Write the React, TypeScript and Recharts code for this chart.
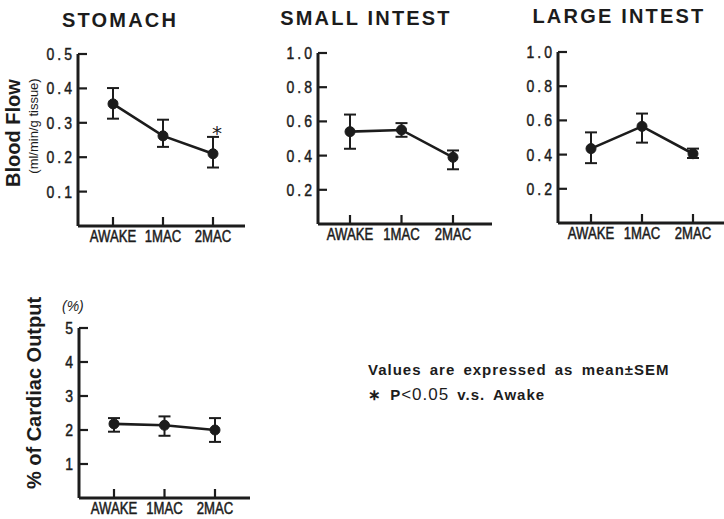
import React from 'react';
import { LineChart, Line, XAxis, YAxis, ErrorBar } from 'recharts';

const INK = '#1c1c1c';
const SANS = "'Liberation Sans', Arial, sans-serif";

const categories = ['AWAKE', '1MAC', '2MAC'];

// blood flow, ml/min/g tissue
const stomachMean = [0.355, 0.262, 0.21];
const stomachHigh = [0.401, 0.309, 0.259];
const stomachLow = [0.312, 0.23, 0.17];
const stomachStar = [null, null, 0.285];

const smallMean = [0.54, 0.55, 0.39];
const smallHigh = [0.64, 0.59, 0.43];
const smallLow = [0.44, 0.51, 0.32];

const largeMean = [0.435, 0.565, 0.405];
const largeHigh = [0.53, 0.64, 0.435];
const largeLow = [0.35, 0.47, 0.38];

// % of cardiac output
const cardiacMean = [2.18, 2.14, 2.0];
const cardiacHigh = [2.35, 2.4, 2.35];
const cardiacLow = [1.95, 1.83, 1.65];

const stomachTicks = [0.1, 0.2, 0.3, 0.4, 0.5];
const intestTicks = [0.2, 0.4, 0.6, 0.8, 1.0];
const cardiacTicks = [1, 2, 3, 4, 5];

function buildRows(mean: number[], high: number[], low: number[], star?: (number | null)[]) {
    return categories.map((cat, i) => ({
        cat,
        mean: mean[i],
        err: [mean[i] - low[i], high[i] - mean[i]],
        star: star ? star[i] : null,
    }));
}

// ticks point into the plot, labels are condensed
const XTick = (props: any) => {
    const { x, y, payload } = props;
    return (
        <g>
            <line x1={x} x2={x} y1={y} y2={y - 9} stroke={INK} strokeWidth={2.2} />
            <text transform={`translate(${x},${y + 15.5}) scale(0.82,1)`} textAnchor="middle" fontFamily={SANS}
                fontSize={16} fill={INK} stroke={INK} strokeWidth={0.5}>
                {payload.value}
            </text>
        </g>
    );
};

const makeYTick = (fmt: (v: number) => string, spacing: number) => (props: any) => {
    const { x, y, payload } = props;
    return (
        <g>
            <line x1={x} x2={x + 9} y1={y} y2={y} stroke={INK} strokeWidth={2.2} />
            <text transform={`translate(${x - 6 + spacing * 0.85},${y + 6}) scale(0.85,1)`} textAnchor="end"
                fontFamily={SANS} fontSize={16.5} letterSpacing={spacing} fill={INK} stroke={INK} strokeWidth={0.45}>
                {fmt(payload.value)}
            </text>
        </g>
    );
};

const StarDot = (props: any) => {
    const { cx, cy, value } = props;
    if (cx == null || cy == null || value == null) return <g key={props.key} />;
    return (
        <text key={props.key} x={cx + 4} y={cy + 12} textAnchor="middle" fontFamily="'DejaVu Sans', sans-serif"
            fontSize={20} fill={INK}>*</text>
    );
};

interface PanelProps {
    x0: number; x1: number; y0: number; y1: number;
    rows: any[];
    domain: [number, number];
    ticks: number[];
    fmt: (v: number) => string;
    spacing: number;
    padL: number; padR: number;
}

function Panel({ x0, x1, y0, y1, rows, domain, ticks, fmt, spacing, padL, padR }: PanelProps) {
    const yW = 50, xH = 30, mTop = 12, mRight = 2;
    const axisLine = { stroke: INK, strokeWidth: 3 };
    return (
        <div style={{ position: 'absolute', left: x0 - yW, top: y0 - mTop }}>
            <LineChart width={x1 - x0 + yW + mRight} height={y1 - y0 + mTop + xH} data={rows}
                margin={{ top: mTop, right: mRight, bottom: 0, left: 0 }}>
                <XAxis dataKey="cat" height={xH} padding={{ left: padL, right: padR }} interval={0}
                    tickSize={0} tickMargin={0} tickLine={false} tick={XTick} axisLine={axisLine} />
                <YAxis width={yW} domain={domain} ticks={ticks} type="number" interval={0}
                    tickSize={0} tickMargin={0} tickLine={false} tick={makeYTick(fmt, spacing)} axisLine={axisLine} />
                <Line dataKey="mean" type="linear" stroke={INK} strokeWidth={2.6} isAnimationActive={false}
                    dot={{ r: 5, fill: INK, stroke: INK, strokeWidth: 1 }} legendType="none">
                    <ErrorBar dataKey="err" direction="y" width={6} stroke={INK} strokeWidth={2} />
                </Line>
                <Line dataKey="star" stroke="none" isAnimationActive={false} dot={StarDot}
                    activeDot={false} legendType="none" connectNulls={false} />
            </LineChart>
        </div>
    );
}

const dec = (v: number) => v.toFixed(1);
const int = (v: number) => String(v);

export default function App() {
    return (
        <div style={{ position: 'absolute', left: 0, top: 0, width: 724, height: 519, background: '#fff', overflow: 'hidden' }}>
            <Panel x0={78} x1={245} y0={54} y1={226} rows={buildRows(stomachMean, stomachHigh, stomachLow, stomachStar)}
                domain={[0, 0.5]} ticks={stomachTicks} fmt={dec} spacing={3.5} padL={35} padR={32} />
            <Panel x0={318} x1={492} y0={53} y1={224} rows={buildRows(smallMean, smallHigh, smallLow)}
                domain={[0, 1]} ticks={intestTicks} fmt={dec} spacing={3.5} padL={32} padR={39} />
            <Panel x0={558} x1={724} y0={52} y1={223} rows={buildRows(largeMean, largeHigh, largeLow)}
                domain={[0, 1]} ticks={intestTicks} fmt={dec} spacing={3.5} padL={33} padR={31} />
            <Panel x0={79} x1={250} y0={328} y1={498} rows={buildRows(cardiacMean, cardiacHigh, cardiacLow)}
                domain={[0, 5]} ticks={cardiacTicks} fmt={int} spacing={0} padL={35} padR={35} />

            <svg width={724} height={519} style={{ position: 'absolute', left: 0, top: 0, pointerEvents: 'none' }}>
                <g fontFamily={SANS} fontWeight="bold" fontSize={20} fill={INK} letterSpacing={2.2}>
                    <text x={120} y={27} textAnchor="middle">STOMACH</text>
                    <text x={366} y={25} textAnchor="middle">SMALL INTEST</text>
                    <text x={619} y={23} textAnchor="middle">LARGE INTEST</text>
                </g>
                <text transform="translate(20,133) rotate(-90)" textAnchor="middle" fontFamily={SANS}
                    fontWeight="bold" fontSize={20} fill={INK}>Blood Flow</text>
                <text transform="translate(38,126) rotate(-90)" textAnchor="middle" fontFamily={SANS}
                    fontSize={13} fill={INK}>(ml/min/g tissue)</text>
                <text transform="translate(41,393) rotate(-90)" textAnchor="middle" fontFamily={SANS}
                    fontWeight="bold" fontSize={20} fill={INK}>% of Cardiac Output</text>
                <text x={62} y={311} fontFamily={SANS} fontStyle="italic" fontSize={14} fill={INK}>(%)</text>
                <text x={368} y={375} fontFamily={SANS} fontWeight="bold" fontSize={15} fill={INK}
                    letterSpacing={1} wordSpacing={3}>Values are expressed as mean±SEM</text>
                <text x={368} y={400} fontFamily={SANS} fontWeight="bold" fontSize={15} fill={INK}
                    letterSpacing={1} wordSpacing={3}>
                    ∗ P<tspan fontWeight="normal" fontSize={17}>&lt;0.05</tspan> v.s. Awake
                </text>
            </svg>
        </div>
    );
}
